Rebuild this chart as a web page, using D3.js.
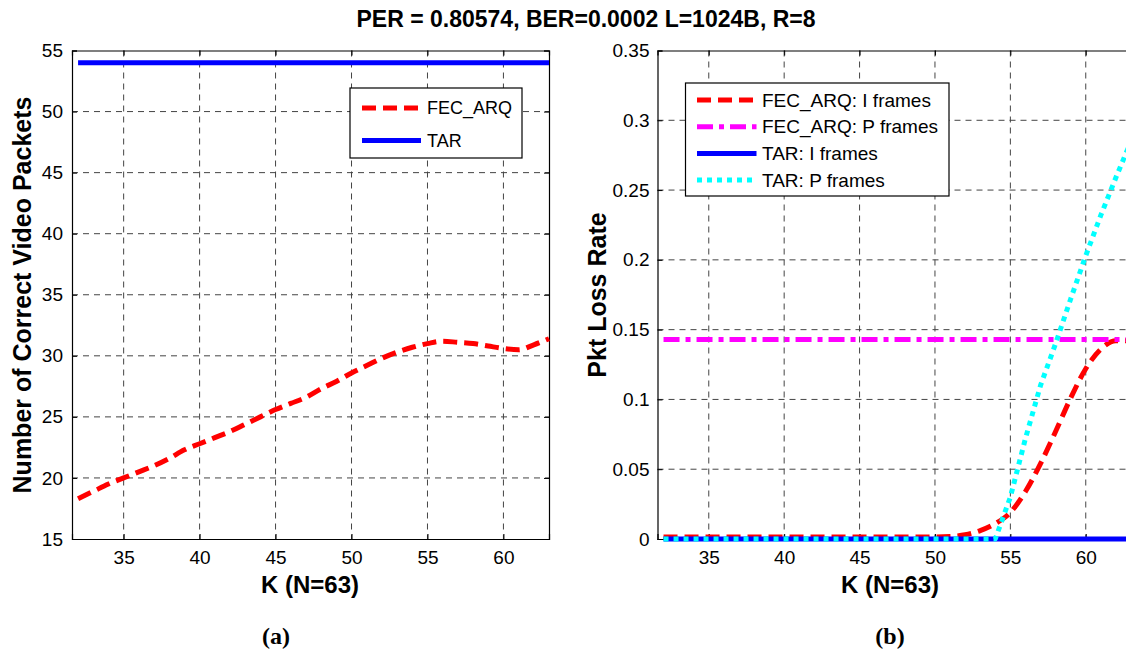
<!DOCTYPE html>
<html><head><meta charset="utf-8">
<script src="https://cdn.jsdelivr.net/npm/d3@7"></script>
<style>body{margin:0;background:#fff;overflow:hidden}svg{display:block}</style>
</head><body><svg id="c" width="1126" height="649"></svg>
<script>
const title = "PER = 0.80574, BER=0.0002 L=1024B, R=8";
const K = [32,33,34,35,36,37,38,39,40,41,42,43,44,45,46,47,48,49,50,51,52,53,54,55,56,57,58,59,60,61,62,63];
// panel (a)
const fecArqPackets = [18.3,18.9,19.5,20.0,20.5,21.0,21.6,22.3,22.8,23.3,23.8,24.4,25.0,25.6,26.1,26.6,27.3,27.9,28.6,29.2,29.8,30.3,30.7,31.0,31.2,31.1,31.0,30.8,30.6,30.5,30.9,31.4];
const tarPackets = [54,54,54,54,54,54,54,54,54,54,54,54,54,54,54,54,54,54,54,54,54,54,54,54,54,54,54,54,54,54,54,54];
// panel (b)
const fecArqI = [0.0015,0.0015,0.0015,0.0015,0.0015,0.0015,0.0015,0.0015,0.0015,0.0015,0.0015,0.0015,0.0015,0.0015,0.0015,0.0015,0.0015,0.0015,0.0015,0.0018,0.003,0.006,0.011,0.019,0.034,0.054,0.077,0.101,0.122,0.136,0.142,0.142];
const fecArqP = [0.143,0.143,0.143,0.143,0.143,0.143,0.143,0.143,0.143,0.143,0.143,0.143,0.143,0.143,0.143,0.143,0.143,0.143,0.143,0.143,0.143,0.143,0.143,0.143,0.143,0.143,0.143,0.143,0.143,0.143,0.143,0.143];
const tarI = [0,0,0,0,0,0,0,0,0,0,0,0,0,0,0,0,0,0,0,0,0,0,0,0,0,0,0,0,0,0,0,0];
const tarP = [0,0,0,0,0,0,0,0,0,0,0,0,0,0,0,0,0,0,0,0,0,0,0,0.03,0.072,0.11,0.14,0.172,0.203,0.232,0.259,0.285];
const xTicks = [35,40,45,50,55,60];
const yTicksA = [15,20,25,30,35,40,45,50,55];
const yTicksB = [0,0.05,0.1,0.15,0.2,0.25,0.3,0.35];
const legendA = ["FEC_ARQ","TAR"];
const legendB = ["FEC_ARQ: I frames","FEC_ARQ: P frames","TAR: I frames","TAR: P frames"];

const svg = d3.select("#c");
const FONT = "Arial, 'Liberation Sans', Helvetica, sans-serif";
const styles = {
  red:    {stroke:"#ff0000", dash:"14,7"},
  magenta:{stroke:"#ff00ff", dash:"16,6,5,6"},
  blue:   {stroke:"#0000ff", dash:null},
  cyan:   {stroke:"#00ffff", dash:"5,5"}
};

svg.append("text").attr("x",586).attr("y",27).attr("text-anchor","middle")
  .attr("font-family",FONT).attr("font-weight","bold").attr("font-size",23).text(title);

function panel(o){
  const x = d3.scaleLinear().domain([31.6,63]).range([o.x0,o.x1]);
  const y = d3.scaleLinear().domain(o.yDom).range([539,50.5]);
  const g = svg.append("g");
  // grid
  g.append("g").selectAll("line").data(o.xTicks).join("line")
    .attr("x1",d=>x(d)).attr("x2",d=>x(d)).attr("y1",50.5).attr("y2",539)
    .attr("stroke","#444").attr("stroke-width",1).attr("stroke-dasharray","6,5");
  g.append("g").selectAll("line").data(o.yTicks.filter(v=>v!==o.yDom[0]&&v!==o.yDom[1])).join("line")
    .attr("x1",o.x0).attr("x2",o.x1).attr("y1",d=>y(d)).attr("y2",d=>y(d))
    .attr("stroke","#444").attr("stroke-width",1).attr("stroke-dasharray","6,5");
  // axes with inward ticks
  const xb = d3.axisBottom(x).tickValues(o.xTicks).tickSize(-5).tickPadding(12).tickFormat(d3.format("d"));
  const xt = d3.axisTop(x).tickValues(o.xTicks).tickSize(-5).tickFormat("");
  const yl = d3.axisLeft(y).tickValues(o.yTicks).tickSize(-5).tickPadding(o.yPad).tickFormat(o.fmt);
  const yr = d3.axisRight(y).tickValues(o.yTicks).tickSize(-5).tickFormat("");
  const ax = [
    g.append("g").attr("transform",`translate(0,539)`).call(xb),
    g.append("g").attr("transform",`translate(0,50.5)`).call(xt),
    g.append("g").attr("transform",`translate(${o.x0},0)`).call(yl),
    g.append("g").attr("transform",`translate(${o.x1},0)`).call(yr)
  ];
  ax.forEach(a=>{
    a.selectAll("path").attr("stroke","#000").attr("stroke-width",1.2);
    a.selectAll("line").attr("stroke","#000");
    a.selectAll("text").attr("font-family",FONT).attr("font-size",19).attr("fill","#000");
  });
  // series
  o.series.forEach(s=>{
    const st = styles[s.style];
    const line = d3.line().x((d,i)=>x(K[i])).y(d=>y(d)).curve(s.smooth?d3.curveMonotoneX:d3.curveLinear);
    g.append("path").datum(s.values).attr("d",line).attr("fill","none")
      .attr("stroke",st.stroke).attr("stroke-width",5)
      .attr("stroke-dasharray",st.dash).attr("stroke-linecap","butt").attr("stroke-linejoin","round");
  });
  // labels
  g.append("text").attr("x",o.xLabX).attr("y",593).attr("text-anchor","middle")
    .attr("font-family",FONT).attr("font-weight","bold").attr("font-size",24).text("K (N=63)");
  g.append("text").attr("transform",`translate(${o.yLabX},${o.yLabY}) rotate(-90)`).attr("text-anchor","middle")
    .attr("font-family",FONT).attr("font-weight","bold").attr("font-size",25).text(o.yLabel);
  g.append("text").attr("x",o.capX).attr("y",644).attr("text-anchor","middle")
    .attr("font-family","'Liberation Serif','Times New Roman',serif").attr("font-weight","bold").attr("font-size",24).text(o.caption);
  // legend
  const L = o.legend;
  const lg = g.append("g");
  lg.append("rect").attr("x",L.x).attr("y",L.y).attr("width",L.w).attr("height",L.h)
    .attr("fill","#fff").attr("stroke","#000").attr("stroke-width",1.2);
  L.items.forEach((it,i)=>{
    const st = styles[it.style];
    const yy = L.y + L.first + i*L.step;
    lg.append("line").attr("x1",L.x+L.lx1).attr("x2",L.x+L.lx2).attr("y1",yy).attr("y2",yy)
      .attr("stroke",st.stroke).attr("stroke-width",5).attr("stroke-dasharray",st.dash);
    lg.append("text").attr("x",L.x+L.tx).attr("y",yy).attr("dy","0.35em")
      .attr("font-family",FONT).attr("font-size",L.fs).text(it.label);
  });
}

panel({
  x0:72, x1:549, yDom:[15,55], xTicks, yTicks:yTicksA, fmt:d3.format("d"), yPad:9,
  series:[{values:fecArqPackets, style:"red", smooth:true},{values:tarPackets, style:"blue"}],
  yLabel:"Number of Correct Video Packets", yLabX:31, yLabY:295, xLabX:310, caption:"(a)", capX:276,
  legend:{x:350,y:88,w:172,h:70,first:20,step:32.6,lx1:12,lx2:71,tx:77,fs:18,
    items:[{label:legendA[0],style:"red"},{label:legendA[1],style:"blue"}]}
});
panel({
  x0:657.5, x1:1131, yDom:[0,0.35], xTicks, yTicks:yTicksB, fmt:d=>String(+d.toFixed(2)), yPad:8,
  series:[{values:fecArqI, style:"red", smooth:true},{values:fecArqP, style:"magenta"},
          {values:tarI, style:"blue"},{values:tarP, style:"cyan"}],
  yLabel:"Pkt Loss Rate", yLabX:606, yLabY:295, xLabX:890, caption:"(b)", capX:890,
  legend:{x:685.5,y:83,w:263.5,h:113,first:17,step:26.7,lx1:11.5,lx2:71,tx:76.5,fs:19,
    items:legendB.map((l,i)=>({label:l,style:["red","magenta","blue","cyan"][i]}))}
});
</script></body></html>
